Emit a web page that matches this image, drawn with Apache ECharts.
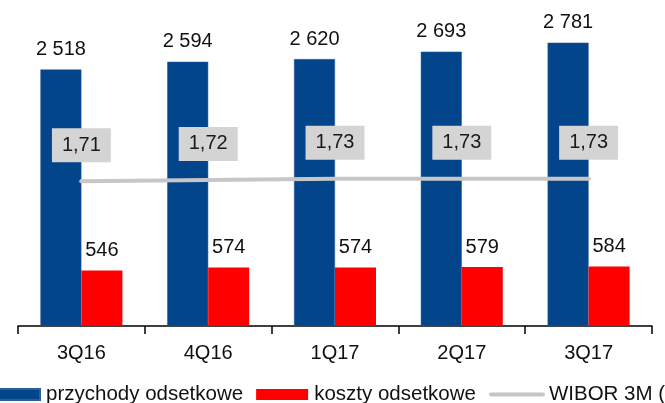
<!DOCTYPE html>
<html>
<head>
<meta charset="utf-8">
<script src="https://cdn.jsdelivr.net/npm/echarts@6/dist/echarts.min.js"></script>
<style>
html,body{margin:0;padding:0;background:#fff;}
#c{width:665px;height:403px;}
</style>
</head>
<body>
<div id="c"></div>
<script>
var categories = ['3Q16', '4Q16', '1Q17', '2Q17', '3Q17'];
var przychody = [2518, 2594, 2620, 2693, 2781];
var koszty = [546, 574, 574, 579, 584];
var wibor = [1.71, 1.72, 1.73, 1.73, 1.73];
var seriesNames = ['przychody odsetkowe', 'koszty odsetkowe', 'WIBOR 3M (%)'];

var FONT = '"Liberation Sans", Arial, sans-serif';
function thousands(v) {
  return String(v).replace(/\B(?=(\d{3})+(?!\d))/g, ' ');
}
function comma(v) {
  return v.toFixed(2).replace('.', ',');
}

var chart = echarts.init(document.getElementById('c'), null, {renderer: 'canvas'});
chart.setOption({
  animation: false,
  backgroundColor: '#ffffff',
  textStyle: {fontFamily: FONT},
  grid: {left: 18, right: 13, top: 0, bottom: 77, containLabel: false},
  legend: {
    left: -13,
    top: 384,
    width: 1000,
    padding: 0,
    itemWidth: 52,
    itemHeight: 11,
    itemGap: 13,
    textStyle: {fontFamily: FONT, fontSize: 20.5, color: '#111', padding: [0, 0, 0, 1]},
    data: [
      {name: seriesNames[0], icon: 'rect'},
      {name: seriesNames[1], icon: 'rect'},
      {name: seriesNames[2], itemStyle: {opacity: 0}, lineStyle: {width: 4, cap: 'round', color: '#c6c6c6'}}
    ]
  },
  xAxis: {
    type: 'category',
    data: categories,
    boundaryGap: true,
    axisLine: {show: true, lineStyle: {color: '#000', width: 1.5}},
    axisTick: {show: true, length: 8, lineStyle: {color: '#000', width: 1.5}},
    axisLabel: {fontFamily: FONT, fontSize: 20, color: '#111', margin: 17}
  },
  yAxis: [
    {type: 'value', min: 0, max: 3200, show: false, splitLine: {show: false}},
    {type: 'value', min: 0.6, max: 3.1, show: false, splitLine: {show: false}}
  ],
  series: [
    {
      name: seriesNames[0],
      type: 'bar',
      data: przychody,
      barWidth: 41,
      barGap: '0%',
      itemStyle: {color: '#03458a', borderColor: '#2a5f9a', borderWidth: 0.5},
      label: {show: true, position: 'top', distance: 10, fontFamily: FONT, fontSize: 20, color: '#111', formatter: function (p) { return thousands(p.value); }},
      z: 2
    },
    {
      name: seriesNames[1],
      type: 'bar',
      data: koszty,
      barWidth: 41,
      barGap: '0%',
      itemStyle: {color: '#ff0000'},
      label: {show: true, position: 'top', distance: 10, fontFamily: FONT, fontSize: 20, color: '#111', formatter: function (p) { return thousands(p.value); }},
      z: 2
    },
    {
      name: seriesNames[2],
      type: 'line',
      yAxisIndex: 1,
      data: wibor,
      symbol: 'circle',
      symbolSize: 4,
      showSymbol: true,
      lineStyle: {color: '#c6c6c6', width: 4, cap: 'round'},
      itemStyle: {color: '#c6c6c6'},
      label: {
        show: true, position: 'top', distance: 17,
        fontFamily: FONT, fontSize: 20, color: '#1a1a1a',
        backgroundColor: '#d4d4d4', padding: [7, 10, 7, 10],
        formatter: function (p) { return comma(p.value); }
      },
      labelLayout: {hideOverlap: false},
      z: 5
    }
  ]
});
</script>
</body>
</html>
